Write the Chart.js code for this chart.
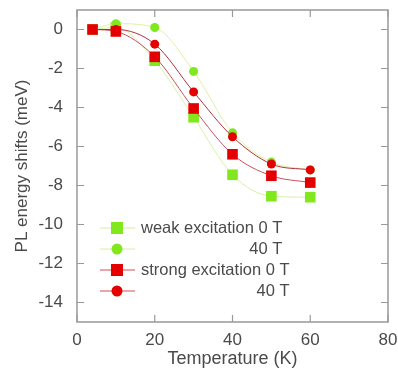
<!DOCTYPE html>
<html>
<head>
<meta charset="utf-8">
<script src="https://cdn.jsdelivr.net/npm/chart.js@4.4.0/dist/chart.umd.min.js"></script>
<style>
  html, body { margin: 0; padding: 0; background: #fff; }
  #wrap { width: 398px; height: 371px; }
</style>
</head>
<body>
<div id="wrap"><canvas id="myChart" width="398" height="371"></canvas></div>
<script>
// data
const temps = [4, 10, 20, 30, 40, 50, 60];
const weak0T = [0, 0.1, -1.6, -4.5, -7.45, -8.55, -8.6];
const weak40T = [0, 0.3, 0.1, -2.15, -5.3, -6.8, -7.2];
const strong0T = [0, -0.1, -1.4, -4.05, -6.4, -7.5, -7.85];
const strong40T = [0, 0, -0.75, -3.2, -5.5, -6.9, -7.2];

const xTicks = [0, 20, 40, 60, 80];
const yTicks = [0, -2, -4, -6, -8, -10, -12, -14];

const legendRows = [
  { text: "weak excitation 0 T", right: false, shape: "rect", color: "#80e81c", line: "#d4f0a0" },
  { text: "40 T", right: true, shape: "circle", color: "#80e81c", line: "#d4f0a0" },
  { text: "strong excitation 0 T", right: false, shape: "rect", color: "#e40000", line: "#d05050" },
  { text: "40 T", right: true, shape: "circle", color: "#e40000", line: "#d05050" }
];

const FONT = "'Liberation Sans', Arial, sans-serif";
const TXT = "#4a4a4a";
const green = "#80e81c";
const red = "#e40000";

function pts(vals) {
  return temps.map((t, i) => ({ x: t, y: vals[i] }));
}

function series(label, vals, color, lineColor, shape, r, order) {
  return {
    label: label,
    data: pts(vals),
    borderColor: lineColor,
    backgroundColor: color,
    pointBackgroundColor: color,
    pointBorderColor: color,
    pointBorderWidth: 0,
    pointStyle: shape,
    pointRadius: r,
    borderWidth: 1,
    cubicInterpolationMode: "monotone",
    order: order
  };
}

// inside ticks on all four sides + box
const frame = {
  id: "frame",
  afterDatasetsDraw(chart) {
    const { ctx, chartArea: a, scales } = chart;
    ctx.save();
    ctx.strokeStyle = "#999";
    ctx.lineWidth = 1.5;
    ctx.strokeRect(a.left, a.top, a.right - a.left, a.bottom - a.top);
    ctx.lineWidth = 1.2;
    ctx.beginPath();
    xTicks.forEach(v => {
      const px = scales.x.getPixelForValue(v);
      ctx.moveTo(px, a.bottom); ctx.lineTo(px, a.bottom - 7);
      ctx.moveTo(px, a.top); ctx.lineTo(px, a.top + 7);
    });
    yTicks.forEach(v => {
      const py = scales.y.getPixelForValue(v);
      ctx.moveTo(a.left, py); ctx.lineTo(a.left + 7, py);
      ctx.moveTo(a.right, py); ctx.lineTo(a.right - 7, py);
    });
    ctx.stroke();
    ctx.restore();
  }
};

// legend in lower left, "40 T" rows right aligned under the 0 T text
const insideLegend = {
  id: "insideLegend",
  afterDraw(chart) {
    const ctx = chart.ctx;
    ctx.save();
    ctx.font = "16.5px " + FONT;
    ctx.textBaseline = "middle";
    let rightEdge = 0;
    legendRows.forEach((row, i) => {
      const y = 228 + i * 21;
      const mx = 117;
      ctx.strokeStyle = row.line;
      ctx.lineWidth = 1;
      ctx.beginPath();
      ctx.moveTo(100, y); ctx.lineTo(135, y);
      ctx.stroke();
      ctx.fillStyle = row.color;
      if (row.shape === "rect") {
        ctx.fillRect(mx - 6, y - 6, 12, 12);
      } else {
        ctx.beginPath();
        ctx.arc(mx, y, 5.5, 0, Math.PI * 2);
        ctx.fill();
      }
      ctx.fillStyle = TXT;
      if (row.right) {
        ctx.textAlign = "right";
        ctx.fillText(row.text, rightEdge, y);
      } else {
        ctx.textAlign = "left";
        ctx.fillText(row.text, 141, y);
        rightEdge = 141 + ctx.measureText(row.text).width;
      }
    });
    ctx.restore();
  }
};

new Chart(document.getElementById("myChart"), {
  type: "line",
  data: {
    datasets: [
      series("weak excitation 0 T", weak0T, green, "#d8f0a8", "rect", 7.5, 4),
      series("weak excitation 40 T", weak40T, green, "#e0f0a0", "circle", 4.5, 3),
      series("strong excitation 0 T", strong0T, red, "#c85060", "rect", 7.5, 2),
      series("strong excitation 40 T", strong40T, red, "#b03040", "circle", 4.5, 1)
    ]
  },
  options: {
    responsive: false,
    animation: false,
    layout: { padding: { top: 10, right: 10, left: 0, bottom: 0 } },
    plugins: { legend: { display: false }, tooltip: { enabled: false } },
    scales: {
      x: {
        type: "linear",
        min: 0, max: 80,
        afterBuildTicks: s => { s.ticks = xTicks.map(v => ({ value: v })); },
        afterFit: s => { s.height = 49; s.paddingLeft = 0; s.paddingRight = 0; },
        grid: { display: false },
        border: { display: false },
        ticks: { color: TXT, font: { family: FONT, size: 17 }, padding: 0, maxRotation: 0 },
        title: { display: true, text: "Temperature (K)", color: TXT, font: { family: FONT, size: 18 }, padding: { top: 0, bottom: 1 } }
      },
      y: {
        type: "linear",
        min: -15, max: 1,
        afterBuildTicks: s => { s.ticks = yTicks.map(v => ({ value: v })); },
        afterFit: s => { s.width = 77; s.paddingTop = 0; s.paddingBottom = 0; },
        grid: { display: false },
        border: { display: false },
        ticks: { color: TXT, font: { family: FONT, size: 17 }, padding: 6 },
        title: { display: true, text: "PL energy shifts (meV)", color: TXT, font: { family: FONT, size: 17 }, padding: { top: 12, bottom: 6 } }
      }
    }
  },
  plugins: [frame, insideLegend]
});
</script>
</body>
</html>
